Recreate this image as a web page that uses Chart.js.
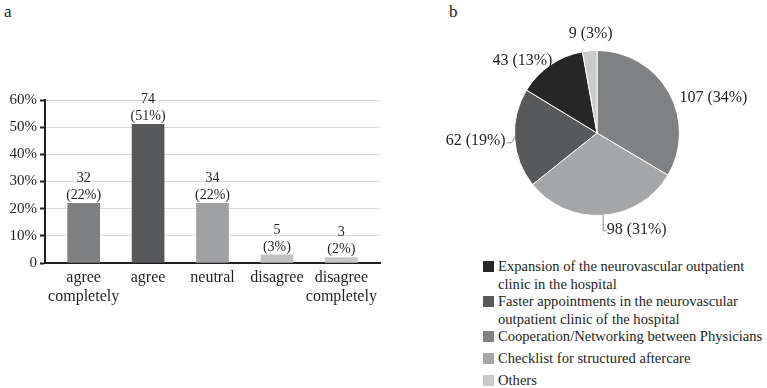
<!DOCTYPE html>
<html>
<head>
<meta charset="utf-8">
<script src="https://cdn.jsdelivr.net/npm/chart.js@4/dist/chart.umd.min.js"></script>
<style>
html,body{margin:0;padding:0;background:#fff;}
body{width:767px;height:388px;position:relative;overflow:hidden;font-family:"Liberation Serif","Times New Roman",serif;color:#231f20;}
#barWrap{position:absolute;left:0;top:0;width:385px;height:388px;}
#pieWrap{position:absolute;left:430px;top:0;width:337px;height:250px;}
.panel{position:absolute;font-size:17px;line-height:17px;}
#legend{position:absolute;left:483px;top:258px;font-size:14.6px;line-height:17.5px;}
.item{position:relative;padding-left:15px;white-space:nowrap;}
.sw{position:absolute;left:0;top:3px;width:11px;height:11px;}
</style>
</head>
<body>
<div class="panel" style="left:4px;top:3px;">a</div>
<div class="panel" style="left:449px;top:3px;">b</div>
<div id="barWrap"><canvas id="bar" width="385" height="388"></canvas></div>
<div id="pieWrap"><canvas id="pie" width="337" height="250"></canvas></div>
<div id="legend"></div>
<script>
// ---- Data: panel a ----
const categories = [['agree','completely'],['agree'],['neutral'],['disagree'],['disagree','completely']];
const barPercent = [22, 51, 22, 3, 2];
const barCounts = [32, 74, 34, 5, 3];
const yTickValues = [0, 10, 20, 30, 40, 50, 60];

// ---- Data: panel b ----
const pieLabels = [
  'Cooperation/Networking between Physicians',
  'Checklist for structured aftercare',
  'Faster appointments in the neurovascular outpatient clinic of the hospital',
  'Expansion of the neurovascular outpatient clinic in the hospital',
  'Others'
];
const pieCounts = [107, 98, 62, 43, 9];
const piePercent = [34, 31, 19, 13, 3];
const legendOrder = [3, 2, 0, 1, 4];
const legendLines = [
  ['Cooperation/Networking between Physicians'],
  ['Checklist for structured aftercare'],
  ['Faster appointments in the neurovascular', 'outpatient clinic of the hospital'],
  ['Expansion of the neurovascular outpatient', 'clinic in the hospital'],
  ['Others']
];

// ---- Styles ----
const barColors = ['#7f8081', '#58595b', '#a0a1a3', '#c0c1c1', '#c6c7c7'];
const pieColors = ['#7f8182', '#a5a6a7', '#58595b', '#262627', '#c9caca'];
const textColor = '#231f20';
const serif = '"Liberation Serif", "Times New Roman", serif';

Chart.defaults.font.family = serif;
Chart.defaults.color = textColor;

// Bar value labels
const barLabelPlugin = {
  id: 'barLabels',
  afterDatasetsDraw(chart) {
    const ctx = chart.ctx;
    const meta = chart.getDatasetMeta(0);
    ctx.save();
    ctx.font = '14px ' + serif;
    ctx.fillStyle = textColor;
    ctx.textAlign = 'center';
    ctx.textBaseline = 'middle';
    meta.data.forEach((bar, i) => {
      ctx.fillText(String(barCounts[i]), bar.x, bar.y - 25);
      ctx.fillText('(' + barPercent[i] + '%)', bar.x, bar.y - 8);
    });
    ctx.restore();
  }
};

new Chart(document.getElementById('bar'), {
  type: 'bar',
  data: {
    datasets: [{
      data: barPercent.map((v, i) => ({ x: i, y: v })),
      backgroundColor: barColors,
      borderWidth: 0,
      barThickness: 32
    }]
  },
  options: {
    responsive: false,
    devicePixelRatio: 1,
    animation: false,
    layout: { padding: { top: 100, right: 5, left: 0, bottom: 0 } },
    plugins: { legend: { display: false }, tooltip: { enabled: false } },
    scales: {
      x: {
        type: 'linear',
        offset: false,
        min: -0.6,
        max: 4.6,
        afterBuildTicks(scale) { scale.ticks = categories.map((c, i) => ({ value: i })); },
        afterFit(scale) { scale.height = 125; },
        ticks: {
          autoSkip: false,
          maxRotation: 0,
          padding: 5,
          font: { size: 16, family: serif },
          color: textColor,
          callback: (v) => categories[v] || ''
        },
        grid: { display: false, drawTicks: false, offset: false },
        border: { display: true, color: textColor, width: 2 }
      },
      y: {
        min: 0,
        max: 60,
        afterBuildTicks(scale) { scale.ticks = yTickValues.map(v => ({ value: v })); },
        afterFit(scale) { scale.width = 45; },
        ticks: {
          padding: 3,
          font: { size: 15, family: serif },
          color: textColor,
          callback: (v) => v === 0 ? '0' : v + '%'
        },
        grid: { color: '#d9d9d9', lineWidth: 1, tickColor: textColor, tickLength: 5, tickWidth: 2 },
        border: { display: true, color: textColor, width: 2 }
      }
    }
  },
  plugins: [barLabelPlugin]
});

// Pie labels with leader lines
const pieLabelStyle = [
  { rad: 10, align: 'left',   dx: 2,   dy: 11, leader: null },
  { rad: 0,  align: 'left',   dx: 4,   dy: 14, leader: 'down' },
  { rad: 0,  align: 'right',  dx: -9,  dy: 3,  leader: 'hook' },
  { rad: 0,  align: 'right',  dx: 2,   dy: -4, leader: null },
  { rad: 0,  align: 'center', dx: 1,   dy: -17, leader: null }
];
const pieLabelPlugin = {
  id: 'pieLabels',
  afterDatasetsDraw(chart) {
    const ctx = chart.ctx;
    const meta = chart.getDatasetMeta(0);
    ctx.save();
    ctx.font = '16px ' + serif;
    ctx.fillStyle = textColor;
    ctx.strokeStyle = '#8a8b8c';
    ctx.lineWidth = 1;
    ctx.textBaseline = 'middle';
    meta.data.forEach((arc, i) => {
      const st = pieLabelStyle[i];
      const mid = (arc.startAngle + arc.endAngle) / 2;
      const r = arc.outerRadius + st.rad;
      const ax = arc.x + Math.cos(mid) * r;
      const ay = arc.y + Math.sin(mid) * r;
      const tx = ax + st.dx, ty = ay + st.dy;
      if (st.leader === 'down') {
        ctx.beginPath();
        ctx.moveTo(ax + 0.5, ay);
        ctx.lineTo(ax + 0.5, ty + 1.5);
        ctx.lineTo(tx, ty + 1.5);
        ctx.stroke();
      } else if (st.leader === 'hook') {
        ctx.beginPath();
        ctx.moveTo(tx + 1, ty + 1.5);
        ctx.lineTo(ax - 3, ty + 1.5);
        ctx.lineTo(ax, ty - 4);
        ctx.stroke();
      }
      ctx.textAlign = st.align;
      ctx.fillText(pieCounts[i] + ' (' + piePercent[i] + '%)', tx, ty);
    });
    ctx.restore();
  }
};

new Chart(document.getElementById('pie'), {
  type: 'pie',
  data: {
    labels: pieLabels,
    datasets: [{
      data: pieCounts,
      backgroundColor: pieColors,
      borderColor: '#ffffff',
      borderWidth: 1
    }]
  },
  options: {
    responsive: false,
    devicePixelRatio: 1,
    animation: false,
    layout: { padding: { left: 84, right: 87, top: 50, bottom: 34 } },
    plugins: { legend: { display: false }, tooltip: { enabled: false } }
  },
  plugins: [pieLabelPlugin]
});

// HTML legend (custom order)
const legendEl = document.getElementById('legend');
const itemGaps = [0, 0, 4.5, 4.5, 0];
legendOrder.forEach((idx, k) => {
  const div = document.createElement('div');
  div.className = 'item';
  div.style.marginBottom = itemGaps[k] + 'px';
  const sw = document.createElement('span');
  sw.className = 'sw';
  sw.style.background = pieColors[idx];
  div.appendChild(sw);
  legendLines[idx].forEach((line, j) => {
    if (j > 0) div.appendChild(document.createElement('br'));
    div.appendChild(document.createTextNode(line));
  });
  legendEl.appendChild(div);
});
</script>
</body>
</html>
